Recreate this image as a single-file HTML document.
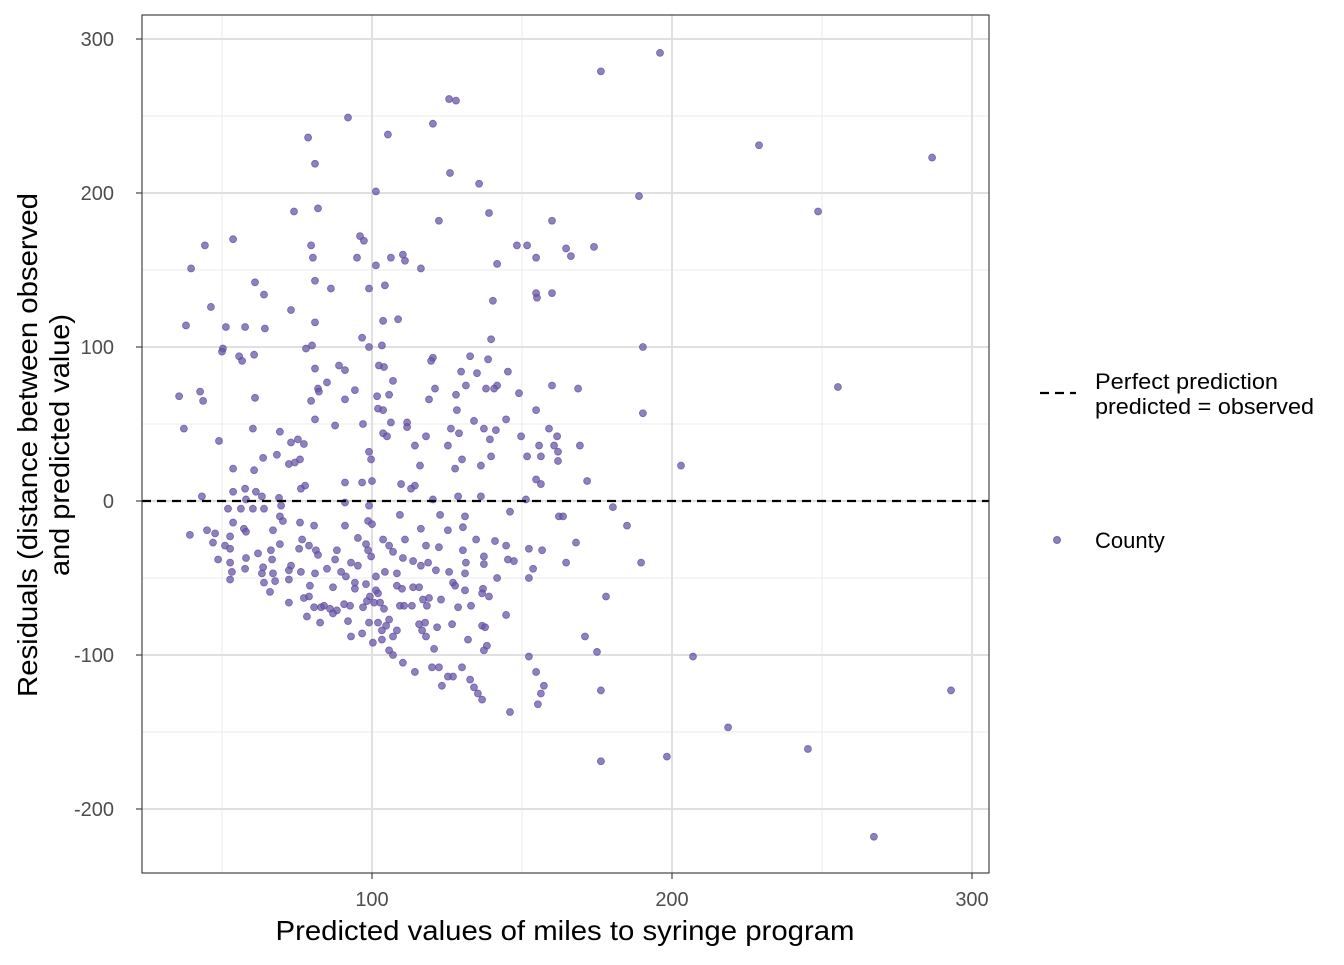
<!DOCTYPE html>
<html><head><meta charset="utf-8"><style>
body{margin:0;background:#fff}
svg text{font-family:"Liberation Sans",Arial,sans-serif}
</style></head><body>
<svg id="chart" width="1344" height="960" xmlns="http://www.w3.org/2000/svg">
<rect width="1344" height="960" fill="#fff"/>
<g id="grid"></g>
<g id="pts"></g>
<line id="zeroline" stroke="#000" stroke-width="2.2" stroke-dasharray="9,6"/>
<rect x="142" y="15" width="847" height="858" fill="none" stroke="#333" stroke-width="1.1"/>
<g id="axes"></g>
<text x="565" y="940" text-anchor="middle" font-size="28" textLength="579" lengthAdjust="spacingAndGlyphs" fill="#000">Predicted values of miles to syringe program</text>
<text transform="translate(37,445) rotate(-90)" text-anchor="middle" font-size="28" fill="#000"><tspan x="0" dy="0" textLength="504" lengthAdjust="spacingAndGlyphs">Residuals (distance between observed</tspan><tspan x="0" dy="32" textLength="262" lengthAdjust="spacingAndGlyphs">and predicted value)</tspan></text>
<g>
<line x1="1040" y1="393" x2="1076" y2="393" stroke="#000" stroke-width="2.2" stroke-dasharray="9,6"/>
<text x="1095" y="389" font-size="22" textLength="183" lengthAdjust="spacingAndGlyphs" fill="#000">Perfect prediction</text>
<text x="1095" y="414" font-size="22" textLength="219" lengthAdjust="spacingAndGlyphs" fill="#000">predicted = observed</text>
<circle cx="1057" cy="540" r="3.5" fill="#6a55a8" fill-opacity="0.75" stroke="#5a4698" stroke-opacity="0.7"/>
<text x="1095" y="548" font-size="22" fill="#000">County</text>
</g>
</svg>
<script>
const xTicks=[100,200,300];
const yTicks=[-200,-100,0,100,200,300];
const xMinor=[50,150,250];
const yMinor=[-150,-50,50,150,250];
const predicted=[196,176.3,125.7,128,92,78.7,105.3,120.3,229,286.7,81,126,135.7,101.3,189,74,82,139,248.7,122.3,160,96,97.3,53.7,44.3,79.7,148.3,151.7,164.7,174,166.3,110.3,111,106.3,95,154.7,80.3,101.3,141.7,116.3,39.7,81,61,104.3,86.3,99,160,154.7,155,64,140.3,46.3,73,108.7,103.7,81,51.3,57.7,64.3,38,96.7,139.7,50.3,50,80,103.3,99,78,190.3,60.7,55.7,56.7,120.3,119.7,138.7,132.7,89,81,102.3,104,91,135,145.3,129.7,107,85,160,255.3,168.7,131.3,141.7,140.7,138,82,82.3,94.3,121,42.7,43.7,35.7,61,79.7,91,101.7,149,105.7,128,119,102,103.7,128.3,154.7,190.3,81,106.3,134,144.7,111.7,111.7,87.7,97,159,141.3,60.3,126.3,37.3,69.3,137.3,103.7,129,105,118,149.7,161.7,49,73,75.3,77.3,139.3,169.3,160.7,155.7,99,114.3,68.3,125.3,162,99.7,76,72.3,74.3,130,139.7,151.7,156.3,162,63.7,116,136.3,127.7,53.7,60.7,203,96.7,100,109.7,114.3,154.7,171.7,91,156.3,113,57.7,77.7,76.3,61.3,53.7,43.3,63.3,58,69,128.7,136.3,91,120.3,151.3,69.7,180.3,60.3,56.3,64,99,146,162.3,163.7,122.7,52,69.3,131,109.3,70.3,185,98.7,76,53.7,100,91,57.3,45,58,67,80.7,116.3,130.3,125.3,47.7,39.3,52.7,95.3,111,76.7,103.7,134.7,141,47,168,69.3,51,144.7,79,105.7,118,98,75.7,88.3,122.3,152.3,156.7,66.3,52.7,81.3,98.7,107,62,130.3,82,137.3,58,66.7,99.7,110.3,87.7,113.7,48.7,118.7,145.3,147.3,189.7,164.7,131.3,137.3,52.7,93,95.3,73,63.7,57.7,121.3,72.3,104.3,53.3,125.7,76.3,153.7,85,89.7,116.3,81,63.3,108.3,67,131,101.3,141.7,152.3,52.7,91.3,72.3,94.3,64,108.3,67.7,127,127.7,113.7,110,98,87,79.3,66,137,94.3,101.3,115.7,131,79,102,136.7,119,72.3,99.3,77.3,123,139,178,84,90.7,109.3,117,92.7,80.7,98.3,100.7,118.3,102.7,113.3,110.7,83,86,88.3,97,104,128.7,133,144.7,78.3,87,99,102,105.7,136.7,115.7,92,117.7,104.7,126.7,82.7,137.7,108.3,103.3,116.7,121.7,93,96.7,107,171,118,132,100.3,103.3,138.3,137.3,105.7,107,120.7,152.3,175,207,110.3,122.3,120,114.3,130,154.7,127,125.3,132.7,134,123.3,157.3,176.3,293,135.3,156.3,136.7,155.3,146,218.7,245.3,198.3,176.3,267.3];
const residual=[291,279,261,260,249,236,238,245,231,223,219,213,206,201,198,188,190,187,188,182,182,172,169,170,166,166,166,166,164,165,159,160,156,158,158,158,158,153,154,151,151,143,142,140,138,138,135,135,132,134,130,126,124,118,117,116,113,113,112,114,106,105,99,97,101,101,100,99,100,95,94,91,93,91,92,94,88,86,88,87,85,83,84,84,78,77,75,74,73,75,75,73,73,73,71,72,73,71,65,68,67,65,66,68,70,69,69,66,60,59,59,59,57,53,51,52,53,51,48,49,50,47,46,47,47,47,45,47,44,44,42,42,42,42,39,38,40,37,40,36,36,36,32,36,30,36,32,27,27,24,25,27,29,29,29,26,28,23,23,21,21,20,23,12,13,11,10,14,13,12,11,8,8,10,8,6,6,3,3,1,2,3,3,-1,1,1,-3,-4,-5,-5,-5,-3,-7,-10,-10,-9,-5,-10,-10,-9,-13,-16,-13,-14,-14,-15,-16,-18,-19,-20,-19,-16,-18,-17,-19,-21,-22,-23,-24,-25,-25,-25,-25,-26,-27,-27,-28,-29,-29,-29,-29,-29,-28,-31,-32,-30,-31,-32,-32,-31,-32,-32,-33,-34,-32,-35,-36,-37,-38,-36,-37,-38,-39,-38,-40,-38,-39,-40,-40,-40,-41,-40,-40,-42,-42,-43,-44,-45,-45,-46,-46,-46,-46,-44,-44,-46,-42,-47,-47,-47,-47,-47,-49,-50,-50,-51,-49,-51,-53,-53,-55,-52,-53,-55,-56,-57,-54,-56,-55,-59,-57,-57,-58,-56,-58,-62,-60,-60,-63,-66,-62,-63,-64,-62,-62,-68,-67,-68,-64,-68,-69,-65,-66,-68,-66,-68,-68,-69,-70,-71,-69,-70,-69,-68,-74,-75,-73,-79,-79,-77,-81,-80,-78,-79,-81,-80,-79,-82,-84,-84,-84,-82,-88,-86,-88,-88,-88,-90,-92,-90,-94,-97,-97,-100,-96,-101,-98,-101,-105,-108,-108,-111,-108,-111,-114,-114,-116,-121,-120,-120,-123,-123,-125,-125,-129,-132,-137,-147,-161,-166,-169,-218];

const X=v=>372+(v-100)*3.0;
const Y=v=>501-v*1.54;
const NS='http://www.w3.org/2000/svg';
const grid=document.getElementById('grid'),axes=document.getElementById('axes'),pts=document.getElementById('pts');
function mk(tag,attrs,parent){const e=document.createElementNS(NS,tag);for(const k in attrs)e.setAttribute(k,attrs[k]);parent.appendChild(e);return e;}
xMinor.forEach(v=>{const l=mk('line',{x1:X(v),x2:X(v),y1:15,y2:873,stroke:'#ebebeb','stroke-width':1},grid);

});
yMinor.forEach(v=>{const l=mk('line',{x1:142,x2:989,y1:Y(v),y2:Y(v),stroke:'#ebebeb','stroke-width':1},grid);

});
xTicks.forEach(v=>{const l=mk('line',{x1:X(v),x2:X(v),y1:15,y2:873,stroke:'#e0e0e0','stroke-width':2},grid);


const t=mk('line',{x1:X(v),x2:X(v),y1:873,y2:879,stroke:'#333','stroke-width':1.1},axes);


const tx=mk('text',{x:X(v),y:906,'text-anchor':'middle','font-size':20,fill:'#4d4d4d'},axes);tx.textContent=v;

});
yTicks.forEach(v=>{const l=mk('line',{x1:142,x2:989,y1:Y(v),y2:Y(v),stroke:'#e0e0e0','stroke-width':2},grid);


const t=mk('line',{x1:136,x2:142,y1:Y(v),y2:Y(v),stroke:'#333','stroke-width':1.1},axes);


const tx=mk('text',{x:114,y:Y(v)+7,'text-anchor':'end','font-size':20,fill:'#4d4d4d'},axes);tx.textContent=v;

});
predicted.forEach((p,i)=>{const c=mk('circle',{cx:X(p),cy:Y(residual[i]),r:3.5,fill:'#6a55a8','fill-opacity':0.75,stroke:'#5a4698','stroke-opacity':0.7,'stroke-width':0.8},pts);

});
const z=document.getElementById('zeroline');
z.setAttribute('x1',142);z.setAttribute('x2',989);z.setAttribute('y1',Y(0));z.setAttribute('y2',Y(0));
</script>
</body></html>
